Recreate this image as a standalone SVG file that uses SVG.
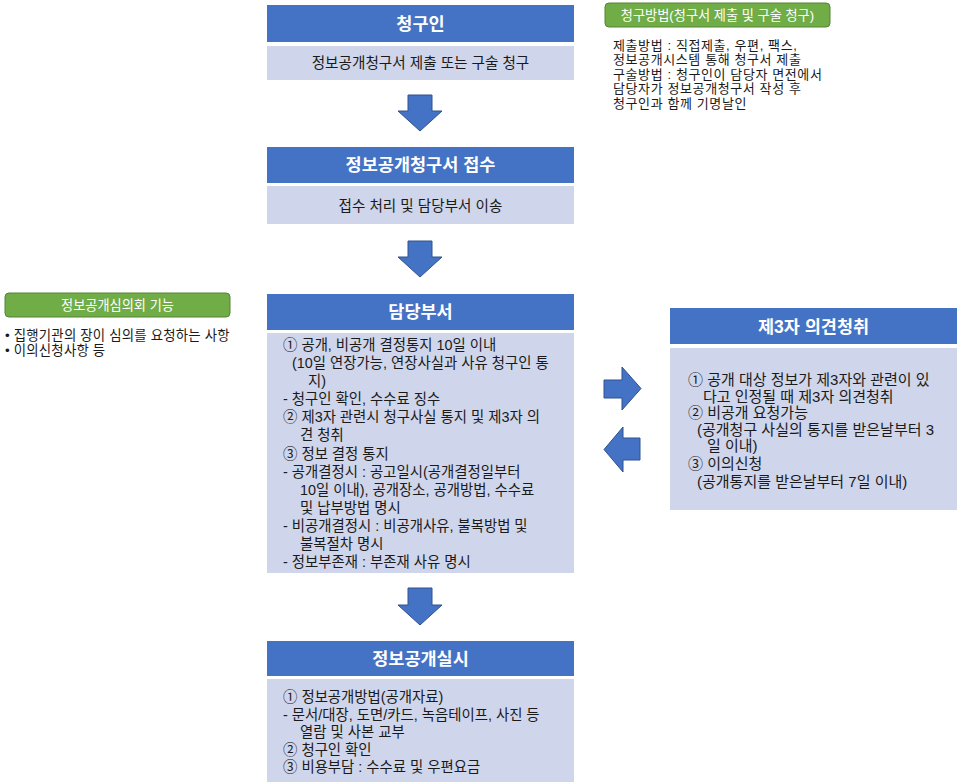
<svg xmlns="http://www.w3.org/2000/svg" width="960" height="784" viewBox="0 0 960 784">
<style>
text{font-family:"Liberation Sans","Noto Sans CJK KR",sans-serif;}
.hd{fill:#4472C4;}
.bd{fill:#CFD5EA;}
.ht{fill:#fff;font-size:17.5px;font-weight:700;text-anchor:middle;}
.bt{fill:#1a1a1a;font-size:14.4px;}
.bc{fill:#1a1a1a;font-size:14.6px;text-anchor:middle;}
.rt{fill:#1a1a1a;font-size:15px;}
.nt{fill:#1a1a1a;font-size:13px;letter-spacing:0.6px;}
.lt{fill:#1a1a1a;font-size:13.4px;letter-spacing:0.2px;}
.gl{fill:#70AD47;stroke:#548235;stroke-width:1;}
.gt{fill:#fff;font-size:13.2px;text-anchor:middle;}
.ar{fill:#4472C4;stroke:#2F528F;stroke-width:1;}
</style>
<rect width="960" height="784" fill="#fff"/>

<g id="connectors">
<polygon class="ar" points="408,95 432,95 432,111 442,111 420,131 398,111 408,111"/>
<polygon class="ar" points="408,241 432,241 432,257 442,257 420,277 398,257 408,257"/>
<polygon class="ar" points="408,588 432,588 432,605 442,605 420,625 398,605 408,605"/>
<polygon class="ar" points="604,380 622,380 622,367 641,388.5 622,410 622,398 604,398"/>
<polygon class="ar" points="640,438 623,438 623,427 604,449.5 623,472 623,460 640,460"/>
</g>

<g id="node-requester">
<rect class="hd" x="267" y="5" width="307" height="37"/>
<text class="ht" x="420.5" y="29.5">청구인</text>
<rect class="bd" x="267" y="46" width="307" height="34"/>
<text class="bc" x="420.5" y="67.5">정보공개청구서 제출 또는 구술 청구</text>
</g>

<g id="node-receipt">
<rect class="hd" x="267" y="147" width="307" height="36"/>
<text class="ht" x="420.5" y="171">정보공개청구서 접수</text>
<rect class="bd" x="267" y="186" width="307" height="38"/>
<text class="bc" x="420.5" y="210.5">접수 처리 및 담당부서 이송</text>
</g>

<g id="node-dept">
<rect class="hd" x="267" y="294" width="307" height="36"/>
<text class="ht" x="420.5" y="318">담당부서</text>
<rect class="bd" x="267" y="333" width="307" height="240"/>
<text class="bt" x="283" y="350">① 공개, 비공개 결정통지 10일 이내</text>
<text class="bt" x="292" y="368.1">(10일 연장가능, 연장사실과 사유 청구인 통</text>
<text class="bt" x="308" y="386.2">지)</text>
<text class="bt" x="283" y="404.2">- 청구인 확인, 수수료 징수</text>
<text class="bt" x="283" y="422.3">② 제3자 관련시 청구사실 통지 및 제3자 의</text>
<text class="bt" x="300" y="440.4">견 청취</text>
<text class="bt" x="283" y="458.5">③ 정보 결정 통지</text>
<text class="bt" x="283" y="476.6">- 공개결정시 : 공고일시(공개결정일부터</text>
<text class="bt" x="300" y="494.6">10일 이내), 공개장소, 공개방법, 수수료</text>
<text class="bt" x="300" y="512.7">및 납부방법 명시</text>
<text class="bt" x="283" y="530.8">- 비공개결정시 : 비공개사유, 불복방법 및</text>
<text class="bt" x="300" y="548.9">불복절차 명시</text>
<text class="bt" x="283" y="567">- 정보부존재 : 부존재 사유 명시</text>
</g>

<g id="node-disclosure">
<rect class="hd" x="267" y="641" width="307" height="35"/>
<text class="ht" x="420.5" y="665">정보공개실시</text>
<rect class="bd" x="267" y="679" width="307" height="103"/>
<text class="bt" x="283" y="702">① 정보공개방법(공개자료)</text>
<text class="bt" x="283" y="719.5">- 문서/대장, 도면/카드, 녹음테이프, 사진 등</text>
<text class="bt" x="300" y="737">열람 및 사본 교부</text>
<text class="bt" x="283" y="754.5">② 청구인 확인</text>
<text class="bt" x="283" y="772">③ 비용부담 : 수수료 및 우편요금</text>
</g>

<g id="node-third-party">
<rect class="hd" x="670" y="308" width="287" height="36"/>
<text class="ht" x="813.5" y="332.5">제3자 의견청취</text>
<rect class="bd" x="670" y="348" width="287" height="162"/>
<text class="rt" x="688" y="385">① 공개 대상 정보가 제3자와 관련이 있</text>
<text class="rt" x="703" y="401.5">다고 인정될 때 제3자 의견청취</text>
<text class="rt" x="688" y="418">② 비공개 요청가능</text>
<text class="rt" x="697" y="434.5">(공개청구 사실의 통지를 받은날부터 3</text>
<text class="rt" x="707" y="451">일 이내)</text>
<text class="rt" x="688" y="468.5">③ 이의신청</text>
<text class="rt" x="697" y="487">(공개통지를 받은날부터 7일 이내)</text>
</g>

<g id="note-request-method">
<rect class="gl" x="605" y="3" width="225" height="24" rx="4"/>
<text class="gt" x="717.5" y="19.8">청구방법(청구서 제출 및 구술 청구)</text>
<text class="nt" x="613" y="49.5">제출방법 : 직접제출, 우편, 팩스,</text>
<text class="nt" x="613" y="64.1">정보공개시스템 통해 청구서 제출</text>
<text class="nt" x="613" y="78.7">구술방법 : 청구인이 담당자 면전에서</text>
<text class="nt" x="613" y="93.3">담당자가 정보공개청구서 작성 후</text>
<text class="nt" x="613" y="107.9">청구인과 함께 기명날인</text>
</g>

<g id="note-committee">
<rect class="gl" x="5" y="293" width="225" height="24" rx="4"/>
<text class="gt" x="117.5" y="309.8">정보공개심의회 기능</text>
<text class="lt" x="5" y="339.5">• 집행기관의 장이 심의를 요청하는 사항</text>
<text class="lt" x="5" y="354.5">• 이의신청사항 등</text>
</g>
</svg>
